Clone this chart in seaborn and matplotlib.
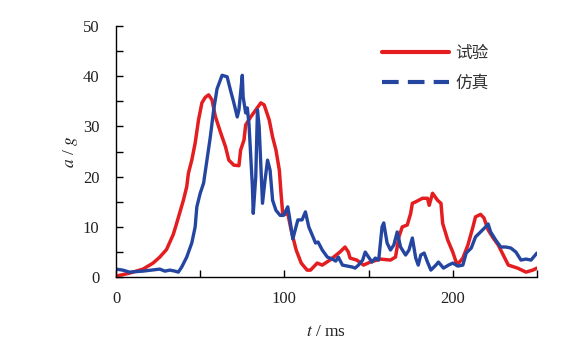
import matplotlib
matplotlib.use("Agg")
import matplotlib.pyplot as plt
import seaborn as sns
import pandas as pd
from matplotlib.lines import Line2D
from matplotlib.ticker import MultipleLocator

# ---- data ----
t_test = [0, 8, 16, 22, 26, 30, 32, 34, 36, 38, 40, 42, 43, 45, 47, 49, 51, 53, 55, 57,
          59, 62, 65, 67, 70, 73, 74, 76, 77, 80, 83, 86, 88, 91, 93, 95, 97, 98, 99, 100.5,
          102, 104, 107, 110, 113.5, 115.5, 119.5, 122.5, 127, 133, 136, 138, 139, 143, 147,
          151, 157, 163, 166, 168, 170, 173, 175, 176, 178, 182, 185, 186, 188, 191, 193, 194,
          197, 200, 202, 203.5, 206, 209, 212, 213.5, 216.5, 218.5, 221, 224, 227, 230, 233,
          238.5, 243.5, 247.5, 250]
a_test = [0.2, 0.8, 1.6, 2.8, 4, 5.5, 7, 8.5, 10.7, 13, 15.3, 18, 20.7, 23.3, 26.7, 31.3, 34.7, 35.8, 36.3, 35.3,
          32, 28.9, 26, 23.3, 22.3, 22.2, 25.3, 27.3, 30.3, 31.9, 33.3, 34.7, 34.3, 31.3, 27.9, 25.3, 21.3, 16.7, 12.7, 12.5,
          12.7, 9.4, 5.4, 2.8, 1.4, 1.4, 2.8, 2.4, 3.4, 5, 6, 5, 3.8, 3.4, 2.4,
          3, 3.6, 3.4, 4, 8, 10, 10.4, 12.7, 14.7, 15, 15.7, 15.7, 14.3, 16.7, 15.3, 14.7, 10.7,
          7.4, 5, 3, 2.8, 3.8, 6.4, 10, 12, 12.5, 11.8, 9.4, 7.8, 6.4, 4.4, 2.4,
          1.8, 1, 1.4, 1.8]

t_sim = [0, 4, 8, 16, 26, 29, 32, 35, 37, 39, 42, 45, 47, 48, 50, 52, 54, 56, 58, 60,
         63, 66, 68, 70, 72, 73, 75, 75.5, 77, 78, 79, 81, 81.5, 83, 84, 85, 87, 88.5, 90, 91.5,
         93, 95, 97.5, 99.5, 102, 103, 105, 108, 110.5, 112.5, 114.5, 116.5, 118.5, 120, 122.5,
         125.5, 128.5, 130.5, 132, 134.5, 137.5, 140.5, 142, 144, 146.5, 148, 150, 152, 154, 156,
         158, 159, 161, 163, 165, 167, 169, 172, 174, 176, 178, 179.5, 181, 183, 185, 187, 190,
         191.5, 194.5, 197.5, 200, 203, 206, 208, 211, 213.5, 216.5, 219.5, 221, 222.5, 225.5,
         228.5, 231.5, 234.5, 237.5, 240.5, 243.5, 246.5, 250]
a_sim = [1.6, 1.4, 1, 1.2, 1.6, 1.2, 1.4, 1.2, 1, 2, 4, 6.8, 10, 14, 16.7, 18.7, 23.3, 27.9, 33.3, 37.5,
         40.2, 39.9, 37.2, 34.7, 31.9, 33.3, 40.2, 35.9, 32.7, 33.7, 30.3, 18, 12.7, 20, 33.3, 30, 14.7, 19.3, 23.3, 21.3,
         15.3, 13.3, 12.3, 12.3, 14, 12, 7.6, 11.4, 11.4, 13, 10, 8.4, 6.8, 7, 5.4,
         4, 3.6, 3.2, 4, 2.4, 2.2, 2, 1.8, 2.4, 3.4, 5, 4, 3, 3.8, 3.4,
         10, 10.8, 6.8, 5.4, 6.4, 9, 6, 4.4, 5.4, 7.8, 3.8, 2.4, 4.4, 4.8, 3, 1.4, 2.4,
         3, 1.8, 2.4, 2.8, 2.2, 2.4, 4.8, 5.8, 8, 9, 10, 10.6, 9, 7.4,
         6, 6, 5.8, 5, 3.4, 3.6, 3.4, 4.8]

series_names = ["试验", "仿真"]
x_ticks = [0, 100, 200]
y_ticks = [0, 10, 20, 30, 40, 50]

# ---- styling ----
sns.set_theme(style="white")
plt.rcParams["font.family"] = ["Liberation Serif", "Noto Sans CJK SC", "DejaVu Sans"]
plt.rcParams["mathtext.fontset"] = "stix"

RED = "#E41E20"
BLUE = "#2546A0"

fig = plt.figure(figsize=(5.83, 3.43), dpi=100)
ax = fig.add_axes([0.199, 0.192, 0.722, 0.732])

df_test = pd.DataFrame({"t": t_test, "a": a_test})
df_sim = pd.DataFrame({"t": t_sim, "a": a_sim})

sns.lineplot(data=df_test, x="t", y="a", ax=ax, color=RED, lw=2.5, estimator=None, sort=False)
sns.lineplot(data=df_sim, x="t", y="a", ax=ax, color=BLUE, lw=2.4, estimator=None, sort=False)

ax.set_xlim(0, 250)
ax.set_ylim(0, 50)
ax.set_xticks(x_ticks)
ax.set_yticks(y_ticks)
ax.xaxis.set_minor_locator(MultipleLocator(50))
ax.yaxis.set_minor_locator(MultipleLocator(5))
ax.tick_params(axis="both", which="both", direction="in", length=5, width=1.0,
               color="black", labelsize=12, labelcolor="#222222")
ax.tick_params(axis="y", which="both", left=True, pad=12)
ax.tick_params(axis="x", which="both", bottom=True, pad=10)

for s in ["top", "right"]:
    ax.spines[s].set_visible(False)
for s in ["left", "bottom"]:
    ax.spines[s].set_color("black")
    ax.spines[s].set_linewidth(1.0)

ax.set_xlabel(r"$t$ / ms", fontsize=12.5, color="#222222", labelpad=12)
ax.set_ylabel(r"$a$ / $g$", fontsize=12.5, color="#222222", labelpad=2)

handles = [
    Line2D([0], [0], color=RED, lw=3.0, solid_capstyle="round"),
    Line2D([0], [0], color=BLUE, lw=3.0, linestyle=(0, (4, 2.2))),
]
leg = ax.legend(handles, series_names, loc="upper left", bbox_to_anchor=(0.597, 0.985),
                frameon=False, handlelength=4.0, handletextpad=0.4, labelspacing=0.75,
                prop={"family": ["Noto Sans CJK SC"], "size": 12})
for txt in leg.get_texts():
    txt.set_color("#333333")

fig.savefig("out.png", dpi=100)
